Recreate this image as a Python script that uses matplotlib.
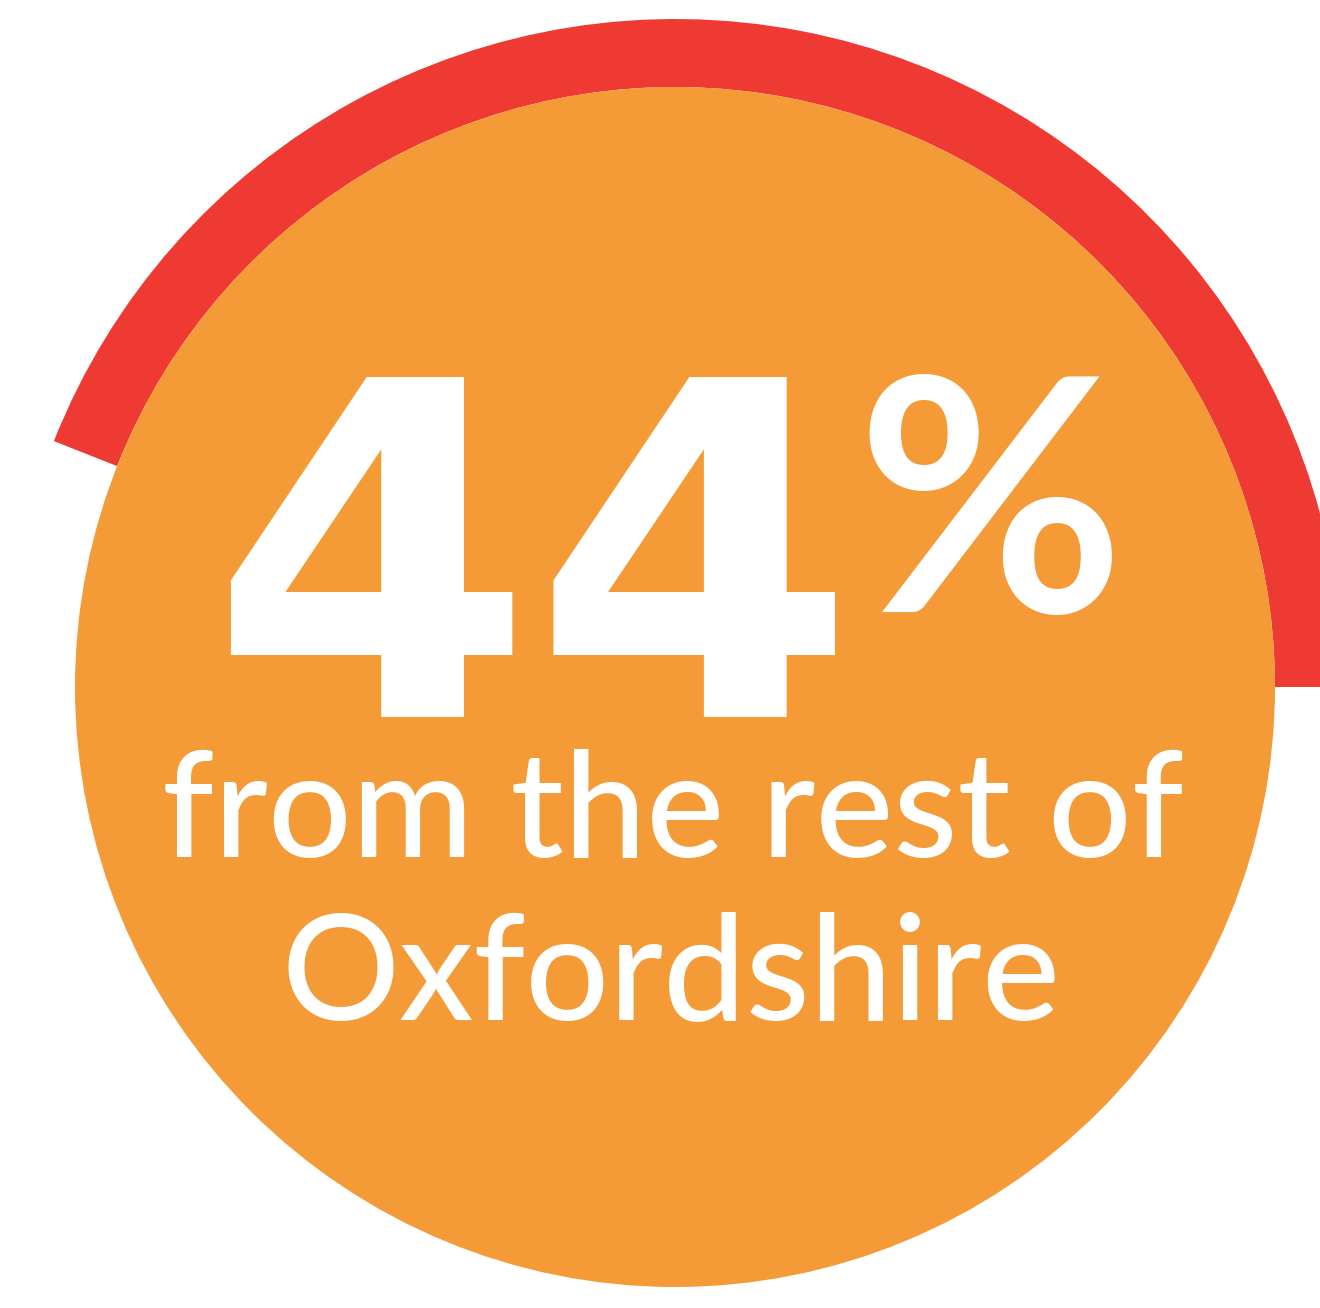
import matplotlib
matplotlib.use("Agg")
import matplotlib.pyplot as plt
from matplotlib.patches import Circle, Wedge

# data
share_pct = 44
big_label = "44"
pct_sign = "%"
caption_lines = ["from the rest of", "Oxfordshire"]

W, H = 1320, 1308
fig = plt.figure(figsize=(W / 100, H / 100), dpi=100)
ax = fig.add_axes([0, 0, 1, 1])
ax.set_xlim(0, W)
ax.set_ylim(0, H)
ax.set_aspect("equal")
ax.axis("off")

cx, cy = 675, H - 687
# red ring showing the share, starting at 3 o'clock going anticlockwise
ax.add_patch(Wedge((cx, cy), 668, 0, 360 * share_pct / 100, width=68,
                   color="#EE3A33", lw=0))
ax.add_patch(Circle((cx, cy), 600, color="#F49B37", lw=0))

font = "Lato"
ax.text(533, H - 717, big_label, ha="center", va="baseline", color="white",
        fontsize=335, fontweight="bold", family="DejaVu Sans")
ax.text(990, H - 612, pct_sign, ha="center", va="baseline", color="white",
        fontsize=235, fontweight="bold", family=font)
ax.text(673, H - 857, caption_lines[0], ha="center", va="baseline",
        color="white", fontsize=106, fontweight="medium", family=font)
ax.text(671, H - 1020, caption_lines[1], ha="center", va="baseline",
        color="white", fontsize=106, fontweight="medium", family=font)

fig.savefig("out.png", dpi=100)
